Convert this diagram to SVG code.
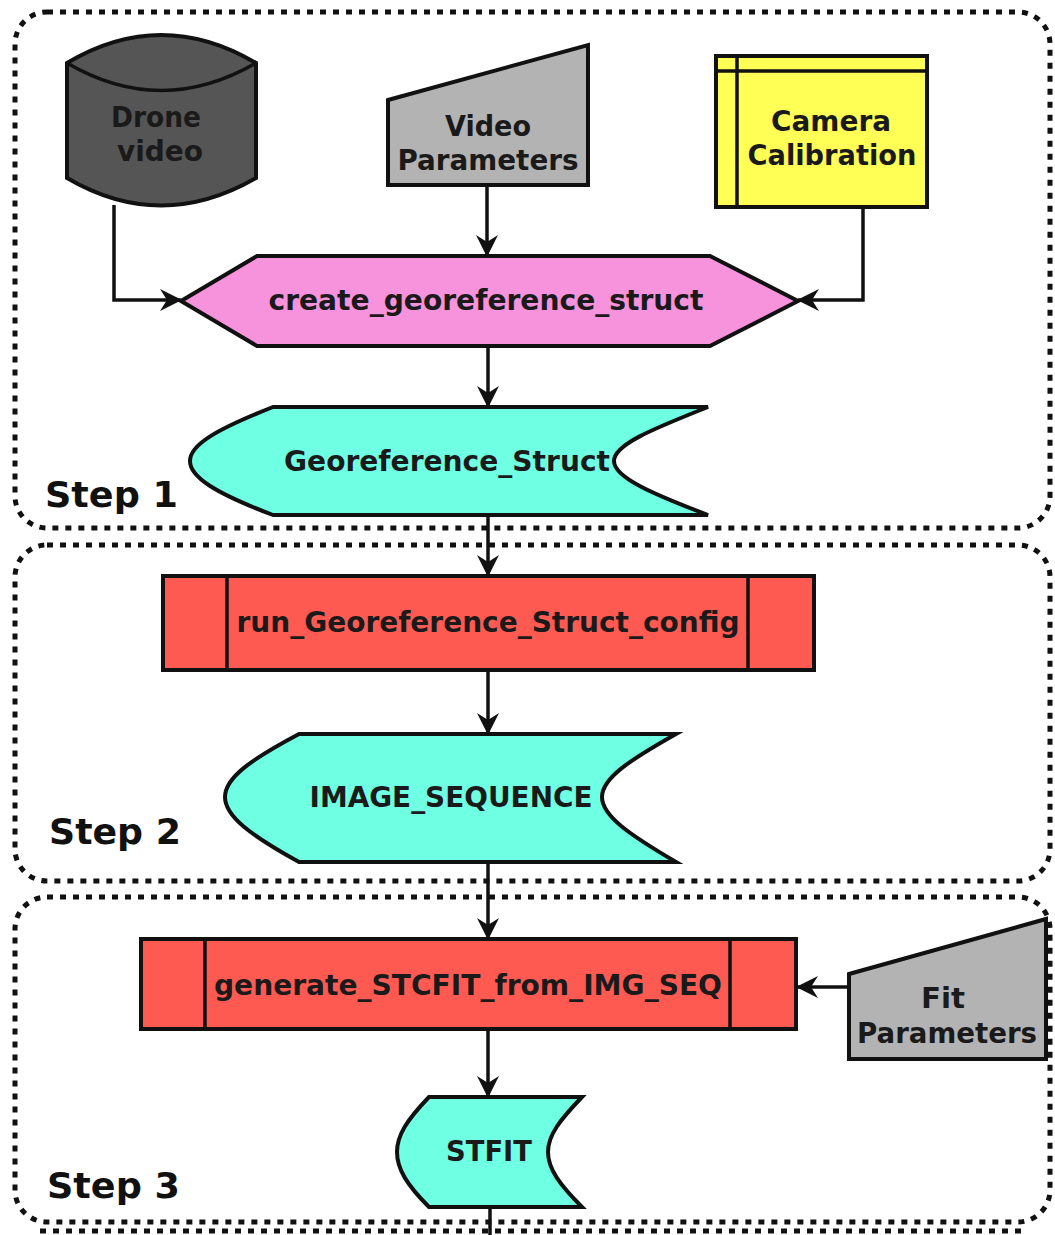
<svg xmlns="http://www.w3.org/2000/svg" width="1055" height="1235" viewBox="0 0 1055 1235">
<defs>
<style>
.frame{fill:none;stroke:#111;stroke-width:5;stroke-dasharray:6 7}
.shape{stroke:#111;stroke-width:4;stroke-linejoin:miter}
.line{fill:none;stroke:#111;stroke-width:3.5}
.lbl{font-family:"DejaVu Sans","Liberation Sans",sans-serif;font-weight:bold;font-size:28px;fill:#1a1a1a;text-anchor:middle;dominant-baseline:central}
.step{font-family:"DejaVu Sans","Liberation Sans",sans-serif;font-weight:bold;font-size:35px;fill:#111}
</style>
<marker id="arr" viewBox="0 0 22 24" refX="21" refY="12" markerWidth="22" markerHeight="24" markerUnits="userSpaceOnUse" orient="auto">
<path d="M0,1 L22,12 L0,23 L7,12 z" fill="#111"/>
</marker>
</defs>
<rect width="1055" height="1235" fill="#fff"/>

<g id="frames">
<rect class="frame" x="15" y="12" width="1035" height="516" rx="32"/>
<rect class="frame" x="15" y="545" width="1035" height="336" rx="32"/>
<rect class="frame" x="15" y="897" width="1035" height="325" rx="32"/>
<line class="frame" x1="40" y1="1231" x2="1025" y2="1231"/>
</g>

<g id="connectors">
<polyline class="line" points="114,205 114,300 181,300" marker-end="url(#arr)"/>
<line class="line" x1="487" y1="187" x2="487" y2="256" marker-end="url(#arr)"/>
<polyline class="line" points="863,209 863,300 798,300" marker-end="url(#arr)"/>
<line class="line" x1="488" y1="347" x2="488" y2="407" marker-end="url(#arr)"/>
<line class="line" x1="488" y1="517" x2="488" y2="576" marker-end="url(#arr)"/>
<line class="line" x1="488" y1="672" x2="488" y2="734" marker-end="url(#arr)"/>
<line class="line" x1="488" y1="864" x2="488" y2="939" marker-end="url(#arr)"/>
<line class="line" x1="849" y1="987" x2="797" y2="987" marker-end="url(#arr)"/>
<line class="line" x1="488" y1="1031" x2="488" y2="1097" marker-end="url(#arr)"/>
<line class="line" x1="490" y1="1209" x2="490" y2="1235"/>
</g>

<g id="drone-video">
<path class="shape" fill="#555555" d="M67,63 Q161,7 256,63 L256,178 Q161,233 67,178 Z"/>
<path class="line" d="M67,63 Q161,118 256,63"/>
<text class="lbl" x="156" y="117" textLength="90" lengthAdjust="spacingAndGlyphs">Drone</text>
<text class="lbl" x="160" y="151" textLength="86" lengthAdjust="spacingAndGlyphs">video</text>
</g>

<g id="video-parameters">
<path class="shape" fill="#b3b3b3" d="M388,100 L588,45 L588,185 L388,185 Z"/>
<text class="lbl" x="488" y="126" textLength="86" lengthAdjust="spacingAndGlyphs">Video</text>
<text class="lbl" x="488" y="160" textLength="181" lengthAdjust="spacingAndGlyphs">Parameters</text>
</g>

<g id="camera-calibration">
<rect class="shape" fill="#ffff55" x="716" y="56" width="211" height="151"/>
<line class="line" x1="737" y1="56" x2="737" y2="207"/>
<line class="line" x1="716" y1="71" x2="927" y2="71"/>
<text class="lbl" x="831" y="121" textLength="120" lengthAdjust="spacingAndGlyphs">Camera</text>
<text class="lbl" x="832" y="155" textLength="169" lengthAdjust="spacingAndGlyphs">Calibration</text>
</g>

<g id="create-georeference-struct">
<path class="shape" fill="#f792dc" d="M181,301 L257,256 L710,256 L798,301 L710,346 L257,346 Z"/>
<text class="lbl" x="486" y="300" textLength="435" lengthAdjust="spacingAndGlyphs">create_georeference_struct</text>
</g>

<g id="georeference-struct">
<path class="shape" fill="#6fffe3" d="M273,407 L708,407 C650,430 614,445 614,461 C614,477 650,493 708,515 L273,515 C215,493 190,477 190,461 C190,445 215,430 273,407 Z"/>
<text class="lbl" x="447" y="461" textLength="326" lengthAdjust="spacingAndGlyphs">Georeference_Struct</text>
<text class="step" x="45" y="507" textLength="133" lengthAdjust="spacingAndGlyphs">Step 1</text>
</g>

<g id="run-georeference-struct-config">
<rect class="shape" fill="#ff5a52" x="163" y="576" width="651" height="94"/>
<line class="line" x1="227" y1="576" x2="227" y2="670"/>
<line class="line" x1="748" y1="576" x2="748" y2="670"/>
<text class="lbl" x="488" y="622" textLength="503" lengthAdjust="spacingAndGlyphs">run_Georeference_Struct_config</text>
</g>

<g id="image-sequence">
<path class="shape" fill="#6fffe3" d="M299,734 L676,734 C630,760 602,778 602,797 C602,816 630,835 676,862 L299,862 C250,835 225,816 225,797 C225,778 250,760 299,734 Z"/>
<text class="lbl" x="451" y="797" textLength="283" lengthAdjust="spacingAndGlyphs">IMAGE_SEQUENCE</text>
<text class="step" x="49" y="844" textLength="132" lengthAdjust="spacingAndGlyphs">Step 2</text>
</g>

<g id="generate-stcfit">
<rect class="shape" fill="#ff5a52" x="141" y="939" width="655" height="90"/>
<line class="line" x1="205" y1="939" x2="205" y2="1029"/>
<line class="line" x1="730" y1="939" x2="730" y2="1029"/>
<text class="lbl" x="468" y="985" textLength="508" lengthAdjust="spacingAndGlyphs">generate_STCFIT_from_IMG_SEQ</text>
</g>

<g id="fit-parameters">
<path class="shape" fill="#b3b3b3" d="M849,974 L1046,919 L1046,1059 L849,1059 Z"/>
<text class="lbl" x="943" y="998" textLength="44" lengthAdjust="spacingAndGlyphs">Fit</text>
<text class="lbl" x="947" y="1033" textLength="180" lengthAdjust="spacingAndGlyphs">Parameters</text>
</g>

<g id="stfit">
<path class="shape" fill="#6fffe3" d="M429,1097 L582,1097 C560,1120 548,1135 548,1152 C548,1169 560,1185 582,1207 L429,1207 C407,1185 397,1169 397,1152 C397,1135 407,1120 429,1097 Z"/>
<text class="lbl" x="489" y="1151" textLength="86" lengthAdjust="spacingAndGlyphs">STFIT</text>
<text class="step" x="47" y="1198" textLength="133" lengthAdjust="spacingAndGlyphs">Step 3</text>
</g>
</svg>
